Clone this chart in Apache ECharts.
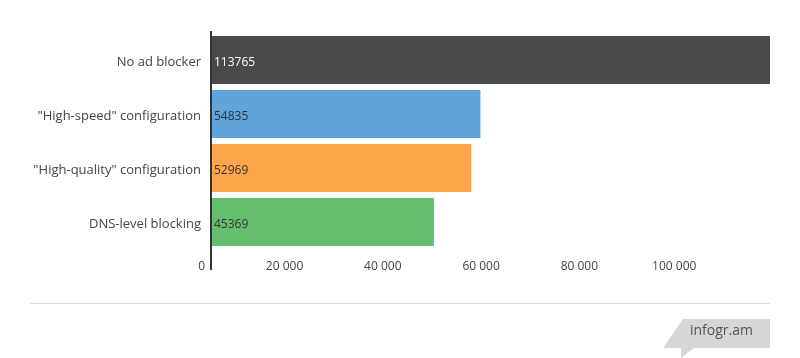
<!DOCTYPE html>
<html><head><meta charset="utf-8">
<script src="https://cdn.jsdelivr.net/npm/echarts@6/dist/echarts.min.js"></script>
<style>html,body{margin:0;padding:0;background:#fff}#c{width:800px;height:358px}</style>
</head><body><div id="c"></div>
<script>
var categories = ['No ad blocker', '"High-speed" configuration', '"High-quality" configuration', 'DNS-level blocking'];
var values = [113765, 54835, 52969, 45369];
var barColors = ['#4a4a4a', '#5fa5da', '#fba64a', '#64be6e'];
var labelColors = ['#ffffff', '#333333', '#333333', '#333333'];
var tickInterval = 20000;

var chart = echarts.init(document.getElementById('c'), null, {renderer: 'canvas'});
var option = {
  animation: false,
  grid: {left: 211, right: 30, top: 33, bottom: 109, containLabel: false},
  xAxis: {
    type: 'value', min: 0, max: 'dataMax', interval: tickInterval,
    axisLine: {show: false}, axisTick: {show: false}, splitLine: {show: false},
    axisLabel: {
      showMaxLabel: false, align: 'right', margin: 12, padding: [0, 6, 0, 0],
      color: '#444', fontSize: 12, fontFamily: 'Open Sans',
      formatter: function (v) { return String(v).replace(/\B(?=(\d{3})+(?!\d))/g, ' '); }
    }
  },
  yAxis: {
    type: 'category', data: categories, inverse: true,
    axisLine: {show: false}, axisTick: {show: false},
    axisLabel: {
      margin: 10,
      formatter: function (v) { return '{c|' + v + '}'; },
      rich: {c: {color: '#444', fontSize: 13, fontFamily: 'Open Sans', padding: [5, 0, 0, 0]}}
    }
  },
  series: [{
    type: 'bar', barCategoryGap: '11%',
    data: values.map(function (v, i) {
      return {value: v, itemStyle: {color: barColors[i]},
        label: {color: labelColors[i]}};
    }),
    label: {show: true, position: 'insideLeft', distance: 3, offset: [0, 2.5], fontSize: 12, fontFamily: 'Open Sans'}
  }]
};
chart.setOption(option);
var x0 = chart.convertToPixel({xAxisIndex: 0}, 0);
chart.setOption({
  graphic: [
    {type: 'line', shape: {x1: x0, y1: 31, x2: x0, y2: 270}, style: {stroke: '#333', lineWidth: 2}, z: 10},
    {type: 'line', shape: {x1: 30, y1: 303.5, x2: 770, y2: 303.5}, style: {stroke: '#dddddd', lineWidth: 1}},
    {type: 'polygon', shape: {points: [[683, 319], [770, 319], [770, 348], [694, 348], [681, 358], [681, 348], [663, 348]]},
      style: {fill: '#d6d6d6'}},
    {type: 'text', left: 690, top: 324, style: {text: 'infogr.am', fill: '#555', fontSize: 14, fontFamily: 'Open Sans'}}
  ]
});
</script></body></html>
